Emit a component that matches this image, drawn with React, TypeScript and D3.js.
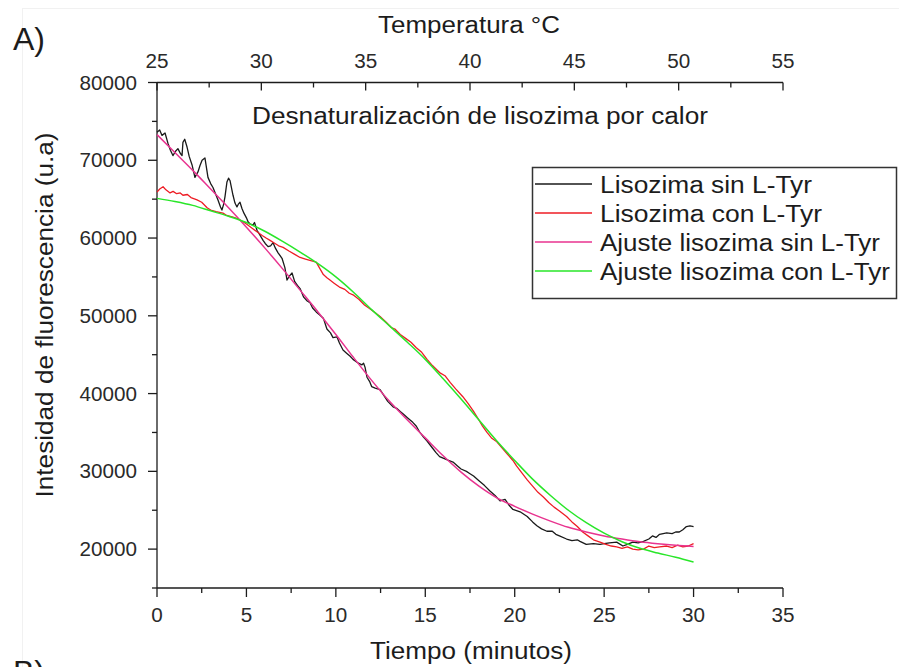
import React from "react";
import * as d3 from "d3";

// Fitted curves, one value per minute (0..30)
const FIT_TIMES = [0,1,2,3,4,5,6,7,8,9,10,11,12,13,14,15,16,17,18,19,20,21,22,23,24,25,26,27,28,29,30];
const FIT_SIN_TYR = [73300,71000,68700,66300,63900,61400,58800,56100,53300,50500,47600,44600,41700,39000,36600,34300,32000,29900,28100,26600,25500,24500,23600,22800,22200,21700,21300,20950,20700,20500,20350];
const FIT_CON_TYR = [65100,64700,64200,63500,62800,62000,60900,59600,58200,56700,55000,53000,50800,48700,46600,44400,41900,39300,36600,33900,31400,29000,26900,25000,23400,22050,20950,20100,19500,18950,18350];

// Measured fluorescence: [minutes, intensity]
const SIN_TYR: [number, number][] = [
  [0,73600],[0.15,73900],[0.28,73200],[0.45,73500],[0.61,72200],[0.75,71300],[0.89,70600],[1.05,71200],[1.17,71500],[1.3,70900],
  [1.4,70600],[1.45,72300],[1.55,72700],[1.68,71700],[1.8,70500],[1.96,69400],[2.12,67800],[2.29,68500],[2.4,69300],[2.52,70000],
  [2.68,70300],[2.85,67800],[3.0,67000],[3.13,66500],[3.27,65700],[3.41,64900],[3.55,64000],[3.63,63600],[3.72,64300],[3.8,65300],
  [3.91,67200],[4.0,67700],[4.08,67400],[4.25,65500],[4.36,64500],[4.47,64000],[4.56,64400],[4.64,64600],[4.75,63800],[4.86,63200],
  [5.0,62600],[5.09,62100],[5.2,61800],[5.37,61700],[5.45,62000],[5.59,61000],[5.75,60400],[5.93,59700],[6.05,59300],[6.21,58900],
  [6.35,59000],[6.49,59400],[6.62,58700],[6.77,58100],[6.99,57400],[7.15,56200],[7.27,54600],[7.4,55100],[7.55,55500],[7.7,54400],
  [7.85,53900],[8.0,53500],[8.2,52400],[8.4,51900],[8.55,51700],[8.7,51000],[8.9,50500],[9.1,50100],[9.3,49700],[9.5,48300],
  [9.7,47800],[9.84,47200],[10.06,47300],[10.2,46500],[10.4,45600],[10.6,45200],[10.8,44800],[10.96,44400],[11.2,44000],[11.46,43700],
  [11.55,43900],[11.63,43400],[11.74,42100],[11.9,41500],[12.0,40900],[12.2,40700],[12.47,40500],[12.7,39700],[12.9,39000],[13.2,38300],
  [13.4,38100],[13.6,37700],[13.8,37300],[14.0,36900],[14.3,36300],[14.5,35800],[14.7,35000],[14.9,34400],[15.1,33900],[15.4,33000],
  [15.6,32400],[15.8,31900],[16.1,31600],[16.3,31400],[16.55,31200],[16.8,30700],[17.0,30300],[17.3,30000],[17.5,29700],[17.7,29400],
  [18.0,28800],[18.3,28200],[18.6,27500],[18.9,26900],[19.18,26200],[19.46,26400],[19.7,25600],[19.9,25100],[20.3,24800],[20.7,24200],
  [21.0,23500],[21.24,23000],[21.5,22600],[21.8,22300],[22.1,22300],[22.3,21900],[22.5,21700],[22.9,21300],[23.2,21100],[23.5,21200],
  [23.65,21000],[24.0,20600],[24.4,20700],[24.77,20600],[25.0,20700],[25.3,20800],[25.7,20900],[26.05,20400],[26.3,20600],[26.6,20900],
  [26.9,20800],[27.2,21000],[27.5,21300],[27.7,21700],[27.9,21500],[28.1,21900],[28.3,22000],[28.5,22100],[28.8,22000],[29.0,22200],
  [29.2,22200],[29.4,22500],[29.6,22900],[29.8,23000],[30.0,22900],
];

const CON_TYR: [number, number][] = [
  [0,65900],[0.15,66300],[0.34,66600],[0.5,66200],[0.73,65800],[0.9,66000],[1.1,65700],[1.3,65800],[1.45,65500],[1.7,65600],
  [1.9,65200],[2.24,64900],[2.5,64600],[2.8,63900],[3.0,63600],[3.3,63400],[3.69,63200],[3.9,62900],[4.25,62700],[4.5,62500],
  [4.81,62100],[5.0,61800],[5.3,61300],[5.59,60800],[5.9,60300],[6.1,60000],[6.32,59700],[6.6,59300],[6.8,59000],[7.05,58800],
  [7.4,58300],[7.7,57900],[8.0,57500],[8.3,57300],[8.6,57100],[8.9,56900],[9.1,56100],[9.3,55300],[9.5,54900],[9.67,54600],
  [9.9,54200],[10.2,53700],[10.5,53400],[10.75,52900],[10.96,52700],[11.3,52100],[11.6,51400],[11.9,50900],[12.2,50400],[12.47,49900],
  [12.8,49200],[13.1,48500],[13.3,48300],[13.6,47600],[13.9,47100],[14.2,46600],[14.5,45900],[14.8,45300],[15.1,44400],[15.4,43600],
  [15.8,42700],[16.1,42300],[16.4,41400],[16.7,40600],[17.1,39600],[17.4,38700],[17.7,37700],[18.0,36600],[18.2,35800],[18.45,35000],
  [18.7,34300],[19.0,33800],[19.3,33000],[19.6,32200],[19.9,31400],[20.1,30700],[20.4,29800],[20.7,28900],[21.0,28100],[21.3,27300],
  [21.6,26700],[21.9,26000],[22.2,25400],[22.5,24900],[22.9,24200],[23.2,23500],[23.5,22900],[23.8,22200],[24.1,21700],[24.4,21200],
  [24.77,20900],[25.1,20600],[25.4,20400],[25.7,20300],[26.0,20100],[26.3,20300],[26.6,20000],[26.9,19900],[27.2,20000],[27.5,20400],
  [27.8,20200],[28.1,20300],[28.5,20400],[28.8,20200],[29.1,20500],[29.4,20300],[29.7,20400],[30.0,20700],
];

const Y_TICKS = [20000, 30000, 40000, 50000, 60000, 70000, 80000];
const X_TICKS = [0, 5, 10, 15, 20, 25, 30, 35];
const TEMP_TICKS = [25, 30, 35, 40, 45, 50, 55];

const LEGEND = [
  { label: "Lisozima sin L-Tyr", color: "#1a1a1a", len: 212 },
  { label: "Lisozima con L-Tyr", color: "#ee1c24", len: 222 },
  { label: "Ajuste lisozima sin L-Tyr", color: "#e8338f", len: 280 },
  { label: "Ajuste lisozima con L-Tyr", color: "#29e629", len: 290 },
];

const FONT = "'Liberation Sans', Arial, sans-serif";
const INK = "#1c1c1c";

export default function App() {
  const x = d3.scaleLinear().domain([0, 35]).range([157, 783]);
  const xTop = d3.scaleLinear().domain([25, 55]).range([157, 783]);
  const y = d3.scaleLinear().domain([15000, 80000]).range([588, 82.5]);

  const line = d3
    .line<[number, number]>()
    .x((d) => x(d[0]))
    .y((d) => y(d[1]));

  const fitSin = FIT_TIMES.map((t, i) => [t, FIT_SIN_TYR[i]] as [number, number]);
  const fitCon = FIT_TIMES.map((t, i) => [t, FIT_CON_TYR[i]] as [number, number]);
  const smooth = d3
    .line<[number, number]>()
    .x((d) => x(d[0]))
    .y((d) => y(d[1]))
    .curve(d3.curveMonotoneX);

  const yMinor = d3.range(15000, 80001, 5000).filter((v) => v % 10000 !== 0);
  const xMinor = d3.range(2.5, 35, 5);
  const tMinor = d3.range(27.5, 55, 5);

  const [x0, x1] = x.range();
  const [yb, yt] = y.range();

  return (
    <div style={{ position: "absolute", left: 0, top: 0 }}>
      <svg width={899} height={667} style={{ display: "block", background: "#fff" }} fontFamily={FONT}>
        <rect x={22.5} y={8.5} width={880} height={670} fill="none" stroke="#f1f1f1" strokeWidth={1} />

        {/* panel letters */}
        <text x={13} y={50} fontSize={32} fill={INK}>A)</text>
        <text x={13} y={683} fontSize={32} fill={INK}>B)</text>

        {/* top temperature axis */}
        <text x={469} y={33} fontSize={23} fill={INK} textAnchor="middle" textLength={182} lengthAdjust="spacingAndGlyphs">
          Temperatura °C
        </text>
        <line x1={x0} x2={x1} y1={yt} y2={yt} stroke={INK} strokeWidth={1.3} />
        {TEMP_TICKS.map((t) => (
          <g key={"tt" + t}>
            <line x1={xTop(t)} x2={xTop(t)} y1={yt} y2={yt + 8} stroke={INK} strokeWidth={1.3} />
            <text transform={`translate(${xTop(t)},68) scale(1.06,1)`} fontSize={19.5} fill="#2a2a2a" textAnchor="middle">
              {t}
            </text>
          </g>
        ))}
        {tMinor.map((t) => (
          <line key={"tm" + t} x1={xTop(t)} x2={xTop(t)} y1={yt} y2={yt + 5} stroke={INK} strokeWidth={1.3} />
        ))}

        {/* left axis */}
        <line x1={x0} x2={x0} y1={yt} y2={yb} stroke={INK} strokeWidth={1.3} />
        {Y_TICKS.map((v) => (
          <g key={"yt" + v}>
            <line x1={x0 - 9} x2={x0} y1={y(v)} y2={y(v)} stroke={INK} strokeWidth={1.3} />
            <text transform={`translate(137,${y(v) + 7}) scale(1.06,1)`} fontSize={19.5} fill="#2a2a2a" textAnchor="end">
              {v}
            </text>
          </g>
        ))}
        {yMinor.map((v) => (
          <line key={"ym" + v} x1={x0 - 5} x2={x0} y1={y(v)} y2={y(v)} stroke={INK} strokeWidth={1.3} />
        ))}
        <text
          transform="translate(53,315) rotate(-90)"
          fontSize={23}
          fill={INK}
          textAnchor="middle"
          textLength={365}
          lengthAdjust="spacingAndGlyphs"
        >
          Intesidad de fluorescencia (u.a)
        </text>

        {/* bottom time axis */}
        <line x1={x0} x2={x1} y1={yb} y2={yb} stroke={INK} strokeWidth={1.3} />
        {X_TICKS.map((t) => (
          <g key={"xt" + t}>
            <line x1={x(t)} x2={x(t)} y1={yb} y2={yb + 9} stroke={INK} strokeWidth={1.3} />
            <text transform={`translate(${x(t)},622) scale(1.06,1)`} fontSize={19.5} fill="#2a2a2a" textAnchor="middle">
              {t}
            </text>
          </g>
        ))}
        {xMinor.map((t) => (
          <line key={"xm" + t} x1={x(t)} x2={x(t)} y1={yb} y2={yb + 5} stroke={INK} strokeWidth={1.3} />
        ))}
        <text x={471} y={659} fontSize={23} fill={INK} textAnchor="middle" textLength={202} lengthAdjust="spacingAndGlyphs">
          Tiempo (minutos)
        </text>

        {/* chart title */}
        <text x={480} y={124} fontSize={23} fill={INK} textAnchor="middle" textLength={456} lengthAdjust="spacingAndGlyphs">
          Desnaturalización de lisozima por calor
        </text>

        {/* series */}
        <path d={line(SIN_TYR) ?? ""} fill="none" stroke={LEGEND[0].color} strokeWidth={1.3} strokeLinejoin="round" />
        <path d={line(CON_TYR) ?? ""} fill="none" stroke={LEGEND[1].color} strokeWidth={1.3} strokeLinejoin="round" />
        <path d={smooth(fitSin) ?? ""} fill="none" stroke={LEGEND[2].color} strokeWidth={1.5} />
        <path d={smooth(fitCon) ?? ""} fill="none" stroke={LEGEND[3].color} strokeWidth={1.5} />

        {/* legend */}
        <rect x={532.5} y={167.5} width={364} height={131} fill="#fff" stroke="#333" strokeWidth={1.5} />
        {LEGEND.map((d, i) => {
          const base = 193 + i * 29;
          return (
            <g key={d.label}>
              <line x1={535} x2={592} y1={base - 9} y2={base - 9} stroke={d.color} strokeWidth={1.4} />
              <text x={600} y={base} fontSize={23} fill={INK} textLength={d.len} lengthAdjust="spacingAndGlyphs">
                {d.label}
              </text>
            </g>
          );
        })}
      </svg>
    </div>
  );
}
